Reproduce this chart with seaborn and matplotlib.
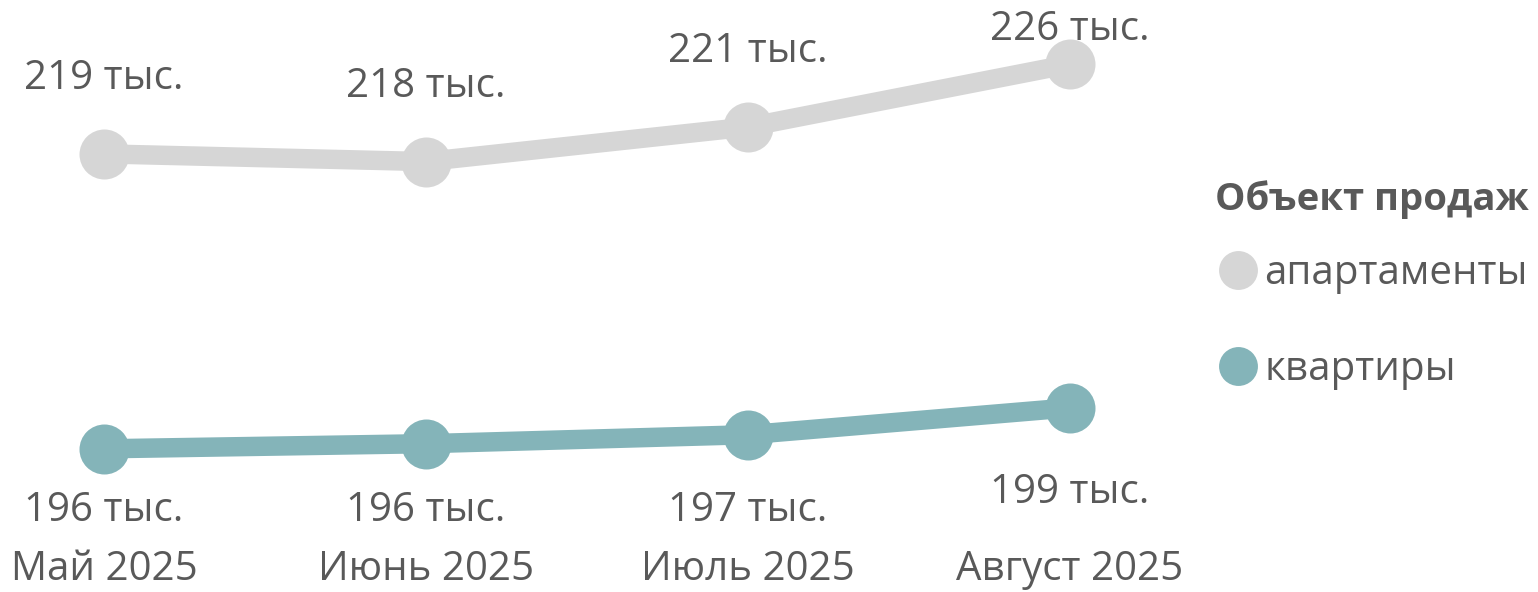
import matplotlib
matplotlib.use('Agg')
import matplotlib.pyplot as plt
from matplotlib.lines import Line2D
import pandas as pd
import seaborn as sns

# данные (руб.)
months = ['Май 2025', 'Июнь 2025', 'Июль 2025', 'Август 2025']
apartments = [219000, 218400, 221100, 226000]
flats = [196000, 196400, 197100, 199200]
series_names = ['апартаменты', 'квартиры']
legend_title = 'Объект продаж'

colors = {'апартаменты': '#d6d6d6', 'квартиры': '#84b4b9'}
text_color = '#595959'

df = pd.DataFrame({
    'month': months * 2,
    'price': apartments + flats,
    'object': [series_names[0]] * len(months) + [series_names[1]] * len(months),
})

sns.set_style('white')
plt.rcParams['font.family'] = ['Open Sans', 'DejaVu Sans']

W, H = 1538, 592
fig = plt.figure(figsize=(W / 100, H / 100), dpi=100)
ax = fig.add_axes([0, 47 / H, 1, 1 - 47 / H])

sns.lineplot(data=df, x='month', y='price', hue='object', palette=colors,
             marker='o', markersize=36, linewidth=14, markeredgewidth=0,
             sort=False, legend=False, ax=ax)
ax.set_xlim(-0.323, 4.453)
ax.set_ylim(188500, 231000)

# подписи значений: над серой линией, под бирюзовой, не выходя за область
inv = ax.transData.inverted()
for vals, shift in [(apartments, 75), (flats, -85)]:
    for i, v in enumerate(vals):
        xd, yd = ax.transData.transform((i, v))
        yd = min(max(yd + shift, H - 511), H - 30)
        xl, yl = inv.transform((xd, yd))
        ax.text(xl, yl, f'{round(v / 1000)} тыс.', ha='center', va='center',
                fontsize=29, color=text_color)

ax.set_xticks(range(len(months)))
ax.set_xticklabels(months)
ax.tick_params(axis='x', length=0, pad=3, labelsize=29, colors=text_color)
ax.set_yticks([])
ax.set_xlabel('')
ax.set_ylabel('')
sns.despine(ax=ax, left=True, bottom=True)

# легенда
fig.text(1215 / W, 1 - 200 / H, legend_title, ha='left', va='center',
         fontsize=27.5, fontweight='bold', color=text_color)
handles = [Line2D([], [], marker='o', linestyle='none', markersize=28,
                  color=colors[n], markeredgewidth=0) for n in series_names]
leg = ax.legend(handles, series_names, loc='center left',
                bbox_to_anchor=(1218 / W, 1 - 322 / H), bbox_transform=fig.transFigure,
                frameon=False, fontsize=29, labelspacing=1.37,
                handletextpad=0.15, handlelength=1.0,
                borderaxespad=0, borderpad=0)
for t in leg.get_texts():
    t.set_color(text_color)

fig.savefig('out.png', dpi=100)
